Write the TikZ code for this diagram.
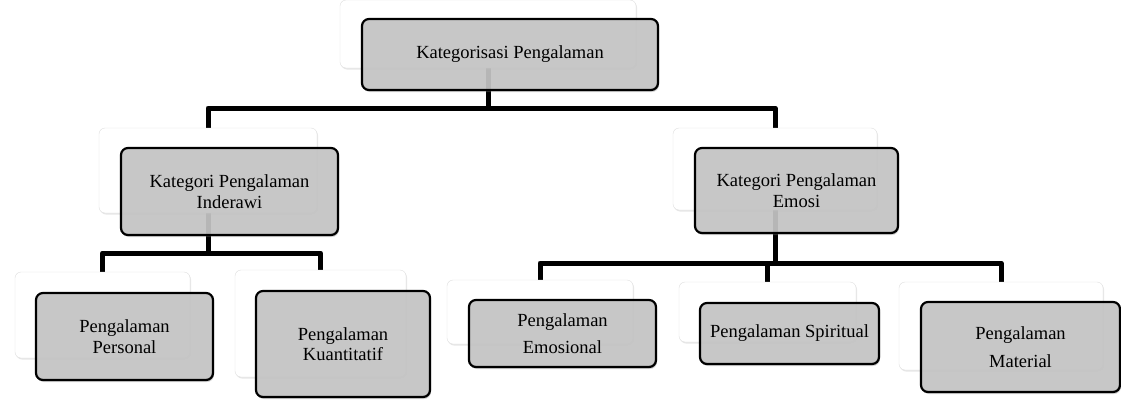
\documentclass[tikz,border=0pt]{standalone}
\usepackage{fontspec}
\setmainfont{Liberation Serif}
\usetikzlibrary{shadows,backgrounds}

\begin{document}
\begin{tikzpicture}[x = 1pt, y = -1pt, font = \fontsize{18.5}{20.5}\selectfont,
        backbox/.style = {draw = gray!25, fill = white, rounded corners = 6pt,
            inner sep = 0pt, outer sep = 0pt,
            drop shadow = {opacity = 0.2, shadow xshift = 1pt, shadow yshift = -1.5pt}},
        frontbox/.style = {draw = black, line width = 2.2pt, fill = gray!45,
            fill opacity = 0.9, text opacity = 1, rounded corners = 7pt,
            align = center, inner sep = 0pt, outer sep = 0pt,
            drop shadow = {opacity = 0.35, shadow xshift = 1pt, shadow yshift = -2pt}},
        conn/.style = {line width = 5pt, line join = round}]
        \useasboundingbox (0,0) rectangle (1121,399);

        % top
        \node[backbox, minimum width = 296pt, minimum height = 68pt] (topb) at (488,34) {};
        \node[frontbox, minimum width = 296pt, minimum height = 71pt] (top) at (510,54.5)
            {Kategorisasi Pengalaman};

        % second row
        \node[backbox, minimum width = 218pt, minimum height = 85pt] (indb) at (208,170.5) {};
        \node[frontbox, minimum width = 217pt, minimum height = 87pt] (ind) at (229.5,191.5)
            {Kategori Pengalaman\\Inderawi};

        \node[backbox, minimum width = 204pt, minimum height = 82pt] (emob) at (775,169) {};
        \node[frontbox, minimum width = 203pt, minimum height = 85pt] (emo) at (796.5,190.5)
            {Kategori Pengalaman\\Emosi};

        % third row
        \node[backbox, minimum width = 175pt, minimum height = 86pt] (perb) at (102.5,315) {};
        \node[frontbox, minimum width = 177pt, minimum height = 87pt] (per) at (124.5,336.5)
            {Pengalaman\\Personal};

        \node[backbox, minimum width = 171pt, minimum height = 107pt] (kuab) at (320.5,323.5) {};
        \node[frontbox, minimum width = 174pt, minimum height = 106pt] (kua) at (343,344)
            {Pengalaman\\Kuantitatif};

        \node[backbox, minimum width = 186pt, minimum height = 64pt] (emsb) at (540,312) {};
        \node[frontbox, minimum width = 187pt, minimum height = 67pt] (ems) at (562.5,333.5)
            {Pengalaman\\[7pt]Emosional};

        \node[backbox, minimum width = 177pt, minimum height = 60pt] (spib) at (767.5,312) {};
        \node[frontbox, minimum width = 179pt, minimum height = 61pt] (spi) at (789.5,333.5)
            {Pengalaman Spiritual};

        \node[backbox, minimum width = 204pt, minimum height = 88pt] (matb) at (1001,326) {};
        \node[frontbox, minimum width = 199pt, minimum height = 90pt] (mat) at (1020.5,347)
            {Pengalaman\\[7pt]Material};

        \begin{scope}[on background layer]
            \draw[conn] (topb.south) -- ++(0,40) -| (indb.north);
            \draw[conn] (topb.south) -- ++(0,40) -| (emob.north);

            \draw[conn] (indb.south) -- ++(0,40) -| (perb.north);
            \draw[conn] (indb.south) -- ++(0,40) -| (kuab.north);

            \draw[conn] (emob.south) -- ++(0,53) -| (emsb.north);
            \draw[conn] (emob.south) -- ++(0,53) -| (spib.north);
            \draw[conn] (emob.south) -- ++(0,53) -| (matb.north);
        \end{scope}
    \end{tikzpicture}
\end{document}
